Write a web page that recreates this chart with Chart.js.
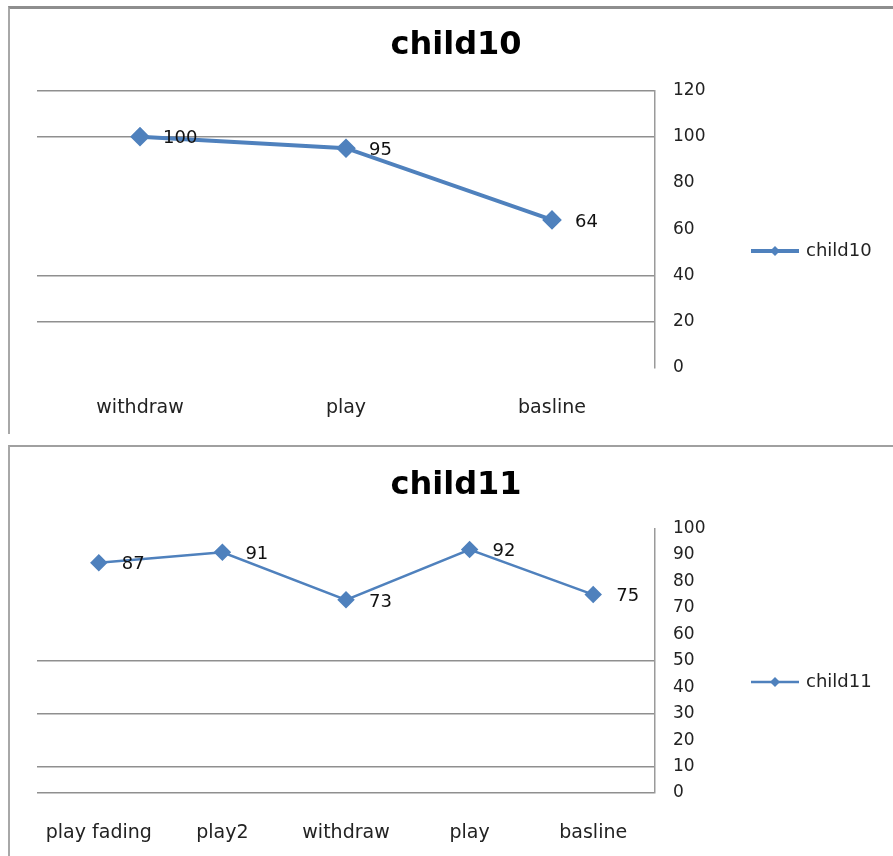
<!DOCTYPE html>
<html>
<head>
<meta charset="utf-8">
<script src="https://cdn.jsdelivr.net/npm/chart.js@4"></script>
<style>
  html, body { margin: 0; padding: 0; background: #fff; }
  body { width: 893px; height: 856px; position: relative; overflow: hidden; }
  .box { position: absolute; left: 8px; background: #fff; }
  #box10 { top: 6px; width: 885px; height: 425px; border-top: 3px solid #8e8e8e; border-left: 2px solid #a8a8a8; }
  #box11 { top: 445px; width: 885px; height: 411px; border-top: 2px solid #a0a0a0; border-left: 2px solid #a8a8a8; }
  .box canvas { position: absolute; left: 0; top: 0; }
</style>
</head>
<body>
<div class="box" id="box10"><canvas id="chart10" width="883" height="422"></canvas></div>
<div class="box" id="box11"><canvas id="chart11" width="883" height="409"></canvas></div>
<script>
const labels10 = ['withdraw', 'play', 'basline'];
const values10 = [100, 95, 64];
const ticks10 = { max: 120, step: 20 };
const grid10 = [120, 100, 40, 20];

const labels11 = ['play fading', 'play2', 'withdraw', 'play', 'basline'];
const values11 = [87, 91, 73, 92, 75];
const ticks11 = { max: 100, step: 10 };
const grid11 = [50, 30, 10, 0];

const BLUE = '#4f81bd';
const FONT = "'DejaVu Sans', Verdana, sans-serif";

// values written to the right of each marker
const pointLabels = {
  id: 'pointLabels',
  afterDatasetsDraw(chart) {
    const ctx = chart.ctx;
    const ds = chart.data.datasets[0];
    const meta = chart.getDatasetMeta(0);
    ctx.save();
    ctx.font = '18px ' + FONT;
    ctx.fillStyle = '#111';
    ctx.textAlign = 'left';
    ctx.textBaseline = 'middle';
    meta.data.forEach((pt, i) => {
      ctx.fillText(String(ds.data[i]), pt.x + 23, pt.y + 2);
    });
    ctx.restore();
  }
};

// excel-style legend: line with diamond, then the series name
const sideLegend = {
  id: 'sideLegend',
  afterDraw(chart) {
    const ctx = chart.ctx;
    const ds = chart.data.datasets[0];
    const x0 = chart.chartArea.right + 96;
    const y = Math.round(chart.height * 0.574);
    ctx.save();
    ctx.strokeStyle = ds.borderColor;
    ctx.lineWidth = ds.borderWidth;
    ctx.beginPath();
    ctx.moveTo(x0, y);
    ctx.lineTo(x0 + 48, y);
    ctx.stroke();
    ctx.fillStyle = ds.borderColor;
    const r = 5;
    ctx.beginPath();
    ctx.moveTo(x0 + 24, y - r);
    ctx.lineTo(x0 + 24 + r, y);
    ctx.lineTo(x0 + 24, y + r);
    ctx.lineTo(x0 + 24 - r, y);
    ctx.closePath();
    ctx.fill();
    ctx.font = '18px ' + FONT;
    ctx.fillStyle = '#222';
    ctx.textBaseline = 'middle';
    ctx.fillText(ds.label, x0 + 55, y);
    ctx.restore();
  }
};

function makeChart(id, title, labels, values, ticks, shownGrid, lineWidth, titlePad) {
  return new Chart(document.getElementById(id), {
    type: 'line',
    data: {
      labels,
      datasets: [{
        label: title,
        data: values,
        xAxisID: 'x',
        yAxisID: 'y',
        borderColor: BLUE,
        backgroundColor: BLUE,
        borderWidth: lineWidth,
        pointStyle: 'rectRot',
        pointRadius: 7,
        pointHoverRadius: 7,
        pointBackgroundColor: BLUE,
        pointBorderColor: BLUE,
        tension: 0
      }]
    },
    options: {
      responsive: false,
      animation: false,
      events: [],
      layout: { padding: { left: 9, right: 0, top: 0, bottom: 0 } },
      plugins: {
        legend: { display: false },
        tooltip: { enabled: false },
        title: {
          display: true,
          text: title,
          color: '#000',
          font: { family: FONT, size: 32, weight: 'bold', lineHeight: 1.2 },
          padding: titlePad
        }
      },
      scales: {
        x: {
          offset: true,
          grid: { display: false },
          border: { display: false },
          ticks: { color: '#222', font: { family: FONT, size: 19 }, padding: 21, maxRotation: 0, autoSkip: false },
          afterFit: s => { s.height = 63; }
        },
        // empty spacer on the left so the title centres on the whole box
        spacer: {
          type: 'linear',
          position: 'left',
          min: 0,
          max: 1,
          grid: { display: false },
          border: { display: false },
          ticks: { display: false },
          afterFit: s => { s.width = 18; }
        },
        y: {
          position: 'right',
          min: 0,
          max: ticks.max,
          grid: {
            drawTicks: false,
            lineWidth: 1.5,
            color: c => (c.tick && shownGrid.includes(c.tick.value)) ? '#8f8f8f' : 'rgba(0,0,0,0)'
          },
          border: { display: true, color: '#9a9a9a', width: 1.5 },
          ticks: { stepSize: ticks.step, color: '#222', font: { family: FONT, size: 17 }, padding: 18 },
          afterFit: s => { s.width = 238; }
        }
      }
    },
    plugins: [pointLabels, sideLegend]
  });
}

makeChart('chart10', 'child10', labels10, values10, ticks10, grid10, 4, { top: 17, bottom: 26 });
makeChart('chart11', 'child11', labels11, values11, ticks11, grid11, 2.5, { top: 19, bottom: 24 });
</script>
</body>
</html>
